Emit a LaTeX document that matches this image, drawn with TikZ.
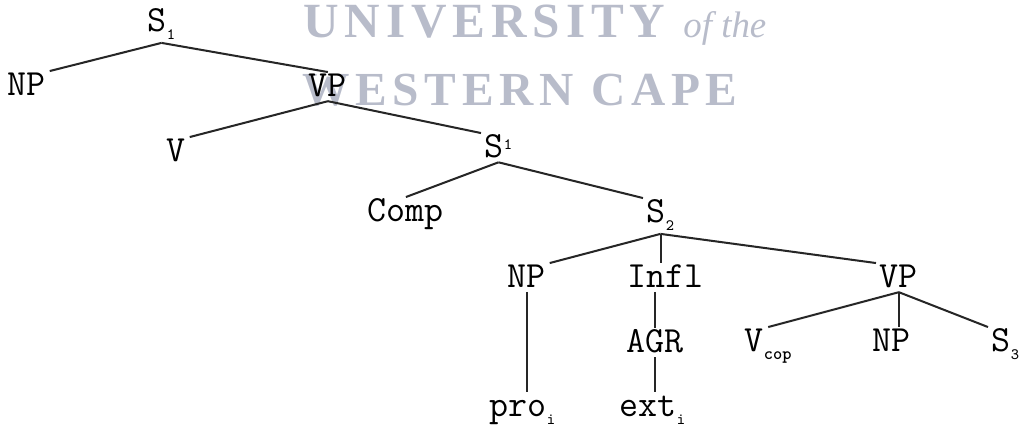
\documentclass[tikz,border=0pt]{standalone}
\usepackage{fontspec}
\newfontfamily\stampfont{Liberation Serif}[LetterSpace=12]
\newfontfamily\stampitfont{Liberation Serif Italic}
\usepackage{tikz}
\definecolor{stampgray}{RGB}{184,188,202}
\newcommand{\lowidx}[1]{\raisebox{-4pt}{\fontsize{9}{9}\selectfont\addfontfeature{FakeBold=1} #1}}
\newcommand{\highidx}[1]{\raisebox{5pt}{\fontsize{9}{9}\selectfont\addfontfeature{FakeBold=1} #1}}

\begin{document}
\begin{tikzpicture}[x=0.02cm, y=-0.02cm]
    \tikzset{
        cat/.style={
            font=\ttfamily\fontsize{21}{22}\selectfont\addfontfeature{FakeBold=1.2},
            anchor=base west, inner sep=2pt, text height=12pt
        },
        branch/.style={draw=black!85, line width=1.15pt},
        stamp/.style={
            text=stampgray, anchor=base west, inner sep=0pt
        },
    }
    \useasboundingbox (0,0) rectangle (1019,425);

    % ==== stamp behind the tree ====
    \node[stamp, font=\stampfont\bfseries\fontsize{28}{30}\selectfont] (uni) at (303,38)
        {UNIVERSITY};
    \node[stamp, font=\stampitfont\fontsize{21}{24}\selectfont] (ofthe) at (683,38)
        {of the};
    \node[stamp, font=\stampfont\bfseries\fontsize{27}{30}\selectfont] (cape) at (302,106)
        {WESTERN CAPE};

    % ==== upper part ====
    \node[cat] (s1) at (144,32) {S\lowidx{1}};
    \node[cat] (np1) at (4,96) {NP};
    \node[cat] (vp1) at (305,97) {VP};
    \node[cat] (v) at (163,162) {V};
    \node[cat] (sbar) at (481,158) {S\highidx{1}};
    \node[cat] (comp) at (364,222) {Comp};
    \node[cat] (s2) at (643,223) {S\lowidx{2}};

    % ==== lower part ====
    \node[cat] (np2) at (504,288) {NP};
    \node[cat] (infl) at (624,288) {Infl};
    \node[cat] (vp2) at (876,288) {VP};
    \node[cat] (agr) at (623,353) {AGR};
    \node[cat] (vcop) at (741,352) {V\lowidx{\fontsize{10}{10}\selectfont\bfseries cop}};
    \node[cat] (np3) at (869,352) {NP};
    \node[cat] (s3) at (988,352) {S\lowidx{3}};
    \node[cat] (pro) at (486,417) {pro\lowidx{i}};
    \node[cat] (ext) at (616,417) {ext\lowidx{i}};

    % ==== branches ====
    \draw[branch] (s1.south) -- (np1.north east);
    \draw[branch] (s1.south) -- (vp1.north);
    \draw[branch] (vp1.south) -- (v.north east);
    \draw[branch] (vp1.south) -- (sbar.north west);
    \draw[branch] (sbar.south) -- (comp.north);
    \draw[branch] (sbar.south) -- (s2.north west);
    \draw[branch] (s2.south) -- (np2.north east);
    \draw[branch] (s2.south) -- (s2.south |- infl.north);
    \draw[branch] (s2.south) -- (vp2.north west);
    \draw[branch] (np2.south) -- (np2.south |- pro.north);
    \draw[branch] (agr.north |- infl.south) -- (agr.north);
    \draw[branch] (agr.south) -- (agr.south |- ext.north);
    \draw[branch] (vp2.south) -- (vcop.north);
    \draw[branch] (vp2.south) -- (vp2.south |- np3.north);
    \draw[branch] (vp2.south) -- (s3.north west);

\end{tikzpicture}
\end{document}
